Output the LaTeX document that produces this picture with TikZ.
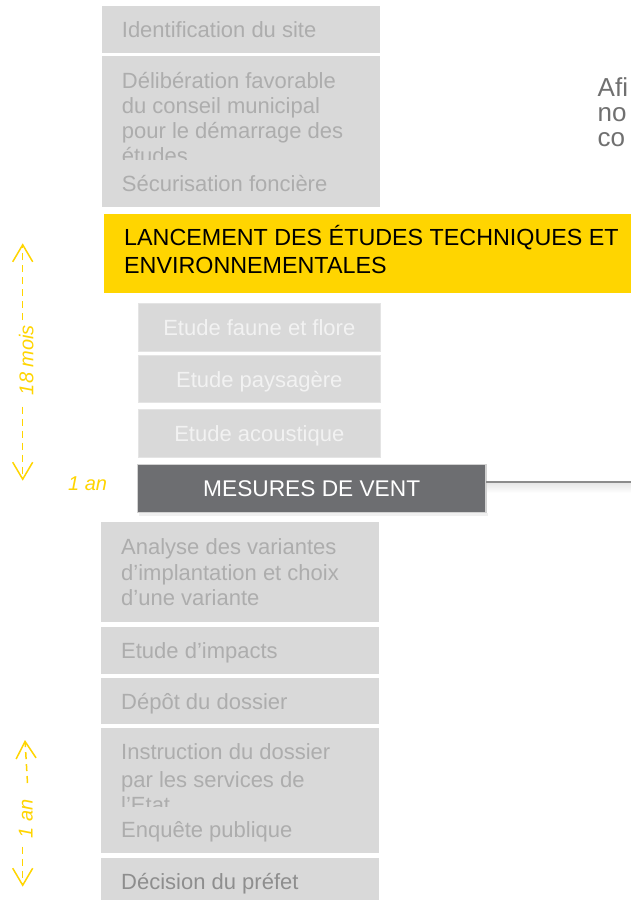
\documentclass[tikz,border=0pt]{standalone}
\usepackage{fontspec}
\setmainfont{Liberation Sans}
\usetikzlibrary{arrows.meta}
\definecolor{boxgray}{HTML}{D9D9D9}
\definecolor{txtgray}{HTML}{ADADAD}
\definecolor{txtdark}{HTML}{8E8E8E}
\definecolor{txtlight}{HTML}{F2F2F2}
\definecolor{ylw}{HTML}{FFD500}
\definecolor{darkbox}{HTML}{6D6E71}
\definecolor{rimgray}{HTML}{D2D2D2}
\definecolor{linegray}{HTML}{8C8C8C}
\definecolor{righttxt}{HTML}{707070}
\newcommand{\pxfont}[1]{\fontsize{#1}{#1}\selectfont}
\tikzset{
  box/.style={anchor=north west, inner sep=0pt, outer sep=0pt, fill=boxgray, draw=none},
  subbox/.style={box, draw=boxgray!70!white, line width=0.8pt},
  darkstep/.style={box, fill=darkbox, draw=rimgray, line width=1.5pt},
  lbl/.style={anchor=base west, inner sep=0pt, text=txtgray, font=\pxfont{22}},
  clbl/.style={anchor=base, inner sep=0pt, text=txtlight, font=\pxfont{22}},
  hdr/.style={anchor=base west, inner sep=0pt, text=black, font=\pxfont{23.3}},
  side/.style={inner sep=0pt, text=ylw, font=\itshape\pxfont{20}},
  yarr/.style={draw=ylw, line width=1.5pt, dash pattern=on 7pt off 5pt,
    -{Straight Barb[length=17pt,width=20pt]}},
  rtxt/.style={anchor=base west, inner sep=0pt, text=righttxt, font=\pxfont{26}},
}
\begin{document}
\begin{tikzpicture}[x=1pt,y=-1pt]
\useasboundingbox (0,0) rectangle (631,900);
\clip (0,0) rectangle (631,900);
\fill[white] (0,0) rectangle (631,900);

% top gray boxes
\node[box, minimum width=278.5pt, minimum height=46.7pt] (b1) at (101.5,6) {};
\node[lbl] (t1) at (121.7,37.7) {Identification du site};

\node[box, minimum width=278.5pt, minimum height=150.7pt] (b2) at (101.5,56) {};
\node[lbl] (t2a) at (121.7,88) {Délibération favorable};
\node[lbl] (t2b) at (121.7,113) {du conseil municipal};
\node[lbl] (t2c) at (121.7,138) {pour le démarrage des};
\begin{scope}
  \clip (101.5,56) rectangle (380,159.5);
  \node[lbl] (t2d) at (121.7,163) {études};
\end{scope}
\node[lbl] (t2e) at (121.7,191) {Sécurisation foncière};

% right text (cut by the page edge)
\node[rtxt] (r1) at (597.5,96) {Afi};
\node[rtxt] (r2) at (597.5,121) {no};
\node[rtxt] (r3) at (597.5,146) {co};

% yellow header
\node[box, fill=ylw, minimum width=546.5pt, minimum height=78.5pt] (yl) at (103.5,214) {};
\node[hdr] (h1) at (124,245.7) {LANCEMENT DES ÉTUDES TECHNIQUES ET};
\node[hdr] (h2) at (124,273.3) {ENVIRONNEMENTALES};

% study boxes
\node[subbox, minimum width=242.5pt, minimum height=48pt] (e1) at (138,303) {};
\node[clbl] (te1) at (259.3,335) {Etude faune et flore};
\node[subbox, minimum width=242.5pt, minimum height=47.7pt] (e2) at (138,355) {};
\node[clbl] (te2) at (259.3,387) {Etude paysagère};
\node[subbox, minimum width=242.5pt, minimum height=47.7pt] (e3) at (138,409.3) {};
\node[clbl] (te3) at (259.3,441) {Etude acoustique};

% wind measurements
\shade[top color=black!10, bottom color=white] (486,482.5) rectangle (631,493);
\fill[black!6] (139,513.3) rectangle (488,515.5);
\node[darkstep, minimum width=348.5pt, minimum height=48pt] (mes) at (137.5,464.5) {};
\node[clbl, text=white, font=\pxfont{22.7}] (tmes) at (311.7,496.5) {MESURES DE VENT};
\coordinate (lineend) at (631,481.7);
\draw[linegray, line width=1.6pt] (mes.east |- lineend) -- (lineend);
\node[side, anchor=base west] (an1) at (68,490) {1 an};

% lower gray boxes
\node[box, minimum width=278pt, minimum height=99.4pt] (b3) at (101,522.3) {};
\node[lbl] (t3a) at (121,554.5) {Analyse des variantes};
\node[lbl] (t3b) at (121,580.5) {d’implantation et choix};
\node[lbl] (t3c) at (121,605) {d’une variante};

\node[box, minimum width=278pt, minimum height=46.2pt] (b4) at (101,627.3) {};
\node[lbl] (t4) at (121,658.6) {Etude d’impacts};

\node[box, minimum width=278pt, minimum height=46pt] (b5) at (101,677.5) {};
\node[lbl] (t5) at (121,709.6) {Dépôt du dossier};

\node[box, minimum width=278pt, minimum height=124.4pt] (b6) at (101,728.3) {};
\node[lbl] (t6a) at (121,759.6) {Instruction du dossier};
\node[lbl] (t6b) at (121,787) {par les services de};
\begin{scope}
  \clip (101,728.3) rectangle (379,806);
  \node[lbl] (t6c) at (121,812.5) {l’Etat};
\end{scope}
\node[lbl] (t6d) at (121,837) {Enquête publique};

\node[box, minimum width=278pt, minimum height=60pt] (b7) at (101,857.7) {};
\node[lbl, text=txtdark] (t7) at (121,889.6) {Décision du préfet};

% 18 mois arrow
\coordinate (m18top) at (22.7,243.3);
\coordinate (m18gu) at (22.7,320);
\coordinate (m18gd) at (22.7,406.7);
\coordinate (m18bot) at (22.7,480.7);
\draw[yarr] (m18gu) -- (m18top);
\draw[yarr] (m18gd) -- (m18bot);
\node[side, rotate=90] (l18) at (26.3,360) {18 mois};

% 1 an arrow
\coordinate (a1top) at (25,740);
\coordinate (a1gu) at (27.5,783);
\coordinate (a1gd) at (22.7,846.7);
\coordinate (a1bot) at (22.7,886.7);
\draw[yarr] (a1gu) -- (a1top);
\draw[yarr] (a1gd) -- (a1bot);
\node[side, rotate=90] (l1an) at (25.8,819) {1 an};
\end{tikzpicture}
\end{document}
